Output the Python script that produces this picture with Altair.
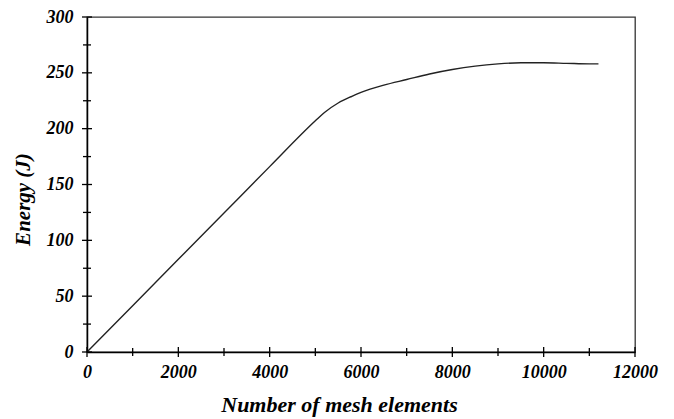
import altair as alt
import pandas as pd

elements = [0, 1000, 2000, 3000, 4000, 5000, 5200, 5500, 5800, 6000, 6500, 7000,
            7500, 8000, 8500, 9000, 9500, 10000, 10500, 11000, 11200]
energy = [0, 41.5, 83, 124.5, 166, 207, 214.5, 223, 229, 232.5, 239, 244,
          249, 253, 256, 258, 259, 259, 258.5, 258, 258]

x_major = [0, 2000, 4000, 6000, 8000, 10000, 12000]
x_minor = [1000, 3000, 5000, 7000, 9000, 11000]
y_major = [0, 50, 100, 150, 200, 250, 300]
y_minor = [25, 75, 125, 175, 225, 275]

W, H = 548, 335
FONT = "Liberation Serif"

df = pd.DataFrame({"n": elements, "e": energy})

xscale = alt.Scale(domain=[0, 12000], nice=False, zero=False)
yscale = alt.Scale(domain=[0, 300], nice=False)

common = dict(ticks=False, grid=False, domainColor="black", domainWidth=1.5,
              labelFont=FONT, labelFontSize=18, labelFontWeight="bold", labelFontStyle="italic",
              labelColor="black", labelFlush=False,
              titleFont=FONT, titleFontWeight="bold", titleFontStyle="italic", titleColor="black")

xaxis = alt.Axis(values=x_major, format="d", labelPadding=11, titleFontSize=22,
                 titleX=252, titleY=42, titleBaseline="top", titleAlign="center", **common)
yaxis = alt.Axis(values=y_major, labelPadding=14, titleFontSize=21,
                 titleX=-54, titleY=182, titleAlign="center", titleBaseline="bottom",
                 titleAngle=270, **common)
XT = "Number of mesh elements"
YT = "Energy (J)"

line = alt.Chart(df).mark_line(color="#222222", strokeWidth=1.4, interpolate="monotone").encode(
    x=alt.X("n:Q", scale=xscale, title=XT, axis=xaxis),
    y=alt.Y("e:Q", scale=yscale, title=YT, axis=yaxis),
)

def xticks(vals, half):
    return alt.Chart(pd.DataFrame({"v": vals})).mark_rule(color="black", strokeWidth=1.3).encode(
        x=alt.X("v:Q", scale=xscale, title=XT, axis=xaxis), y=alt.value(H - half), y2=alt.value(H + half))

def yticks(vals, half):
    return alt.Chart(pd.DataFrame({"v": vals})).mark_rule(color="black", strokeWidth=1.3).encode(
        y=alt.Y("v:Q", scale=yscale, title=YT, axis=yaxis), x=alt.value(-half), x2=alt.value(half))

chart = alt.layer(line, xticks(x_major, 5), xticks(x_minor, 4), yticks(y_major, 5), yticks(y_minor, 4)).properties(
    width=W, height=H,
    background="white",
    autosize=alt.AutoSizeParams(type="none"),
    padding={"left": 79, "top": 9, "right": 28, "bottom": 66},
).configure_view(stroke="#333333", strokeWidth=1.3)

chart.save("out.html", embed_options={"renderer": "svg", "actions": False})
